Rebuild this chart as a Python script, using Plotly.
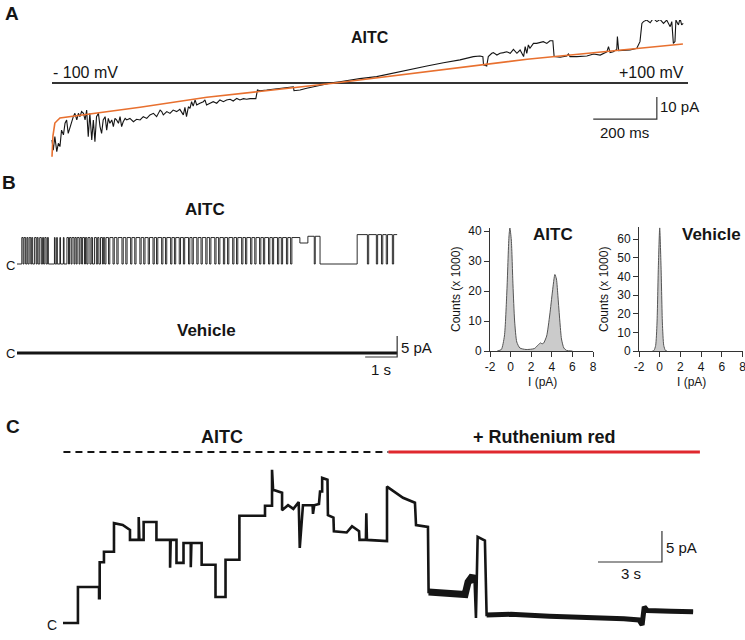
import plotly.graph_objects as go

W, H = 745, 640
FONT = "Arial, Liberation Sans, Helvetica, sans-serif"
INK = "#151515"

# ---------------- Panel A : ramp current (ms, pA) ----------------
ramp_t_ms = [0, 4, 9, 15, 20, 25, 30, 36, 41, 46,
             51, 57, 62, 67, 72, 78, 83, 88, 93, 99,
             104, 109, 114, 119, 125, 130, 135, 140, 146, 151,
             156, 161, 167, 172, 177, 182, 188, 193, 198, 203,
             209, 214, 219, 224, 230, 235, 245, 256, 266, 277,
             287, 298, 308, 319, 329, 340, 345, 350, 361, 371,
             381, 392, 402, 413, 418, 423, 429, 434, 439, 444,
             450, 455, 465, 476, 481, 486, 497, 507, 518, 528,
             539, 549, 560, 570, 581, 591, 602, 612, 623, 641,
             646, 654, 675, 696, 717, 738, 759, 761, 780, 801,
             822, 843, 864, 885, 905, 926, 947, 968,
             1021, 1074, 1126, 1179, 1231, 1283, 1325, 1346, 1355, 1357,
             1367, 1372, 1383, 1388, 1399, 1409, 1420, 1430, 1441, 1451,
             1462, 1472, 1483, 1488, 1493, 1498, 1503, 1514, 1524, 1535,
             1545, 1556, 1566, 1575, 1579, 1598, 1619, 1624, 1629, 1650,
             1682, 1703, 1724, 1745, 1750, 1755, 1765, 1776, 1778, 1782,
             1797, 1818, 1839, 1849, 1855, 1860, 1870, 1881, 1891, 1902,
             1912, 1923, 1933, 1944, 1949, 1954, 1959, 1962, 1970, 1975,
             1980, 1985]
ramp_i_pa = [-25.9, -30.5, -24.4, -31.2, -27.4, -28.9, -21.4, -23.6, -18.3, -16.8,
             -22.9, -19.8, -16.8, -15.3, -13.8, -16.8, -13.8, -15.3, -13.0, -13.8,
             -16.8, -12.3, -24.4, -13.8, -25.9, -16.8, -26.7, -15.3, -13.8, -19.8,
             -22.9, -16.8, -15.3, -21.4, -16.1, -18.3, -16.8, -19.8, -16.1, -16.8,
             -18.3, -15.3, -19.8, -17.6, -16.1, -16.8, -16.1, -17.6, -16.5, -16.8,
             -15.3, -16.1, -14.5, -13.8, -15.3, -12.3, -13.0, -14.5, -13.0, -13.8,
             -12.3, -13.0, -12.0, -14.5, -11.1, -15.3, -10.8, -11.5, -8.5, -10.5,
             -7.7, -10.0, -9.2, -8.5, -7.7, -10.0, -9.2, -8.5, -9.2, -7.7,
             -8.5, -7.7, -7.4, -8.2, -7.0, -7.7, -7.1, -7.4, -7.1, -7.1,
             -3.2, -3.5, -3.2, -2.9, -2.4, -2.3, -1.7, -3.5, -3.2, -2.4,
             -1.7, -0.9, -0.5, 0.2, 0.6, 1.1, 1.4, 2.0,
             2.9, 4.4, 5.9, 7.7, 9.2, 10.5, 12.0, 12.3, 12.0, 8.2,
             7.7, 12.0, 13.5, 13.8, 12.7, 13.5, 13.8, 14.2, 13.5, 15.3,
             13.5, 15.0, 12.0, 16.5, 13.5, 17.3, 15.8, 18.0, 18.0, 18.3,
             18.8, 18.0, 19.2, 19.2, 12.0, 11.7, 12.3, 13.2, 12.0, 12.0,
             12.3, 13.2, 12.7, 14.2, 16.5, 13.8, 14.2, 15.3, 21.1, 14.7,
             14.7, 15.0, 15.8, 18.8, 27.1, 27.9, 28.6, 27.4, 29.4, 27.9,
             28.9, 27.1, 28.6, 25.6, 27.9, 18.0, 18.8, 28.6, 26.4, 29.4,
             26.4, 27.1]
fit_t_ms = [0, 3, 9, 25, 277, 487, 645, 884, 1494, 1984]
fit_i_pa = [-33.5, -24.0, -18.2, -15.9, -11.0, -6.5, -4.0, -0.1, 10.8, 17.7]
zero_t_ms = [0, 2000]
zero_i_pa = [0, 0]
a_bar_t = [1702, 1902, 1902]      # 200 ms
a_bar_i = [-16.4, -16.4, -6.4]    # 10 pA

# ---------------- Panel B : single channel records (s, pA) ----------------
B_DURATION = 11.88
aitc_open_start = [0.15, 0.22, 0.31, 0.38, 0.46, 0.55, 0.63, 0.71, 0.80, 0.87, 0.95,
                   1.17, 1.24, 1.34, 1.45,
                   1.56, 1.64, 1.72, 1.81, 1.88, 1.97, 2.05, 2.14, 2.22, 2.32, 2.42, 2.52, 2.61, 2.70,
                   2.78, 2.90, 3.04, 3.16, 3.32, 3.44, 3.59, 3.72, 3.88, 4.00,
                   4.14, 4.29, 4.40, 4.56, 4.68, 4.84, 4.96, 5.11, 5.24, 5.40,
                   5.51, 5.66, 5.79, 5.94, 6.06, 6.22, 6.34, 6.49, 6.62, 6.78,
                   6.90, 7.06, 7.18, 7.34, 7.47, 7.62, 7.74, 7.90, 8.02, 8.18,
                   8.30, 8.46, 8.59,
                   8.84, 9.09, 9.32,
                   10.63, 10.99, 11.27, 11.43, 11.58, 11.77]
aitc_open_end = [0.19, 0.27, 0.34, 0.43, 0.49, 0.60, 0.66, 0.76, 0.83, 0.91, 0.98,
                 1.19, 1.26, 1.36, 1.47,
                 1.61, 1.69, 1.78, 1.85, 1.94, 2.02, 2.11, 2.18, 2.28, 2.36, 2.48, 2.56, 2.67, 2.74,
                 2.86, 3.00, 3.12, 3.28, 3.40, 3.55, 3.68, 3.84, 3.96, 4.10,
                 4.25, 4.36, 4.52, 4.64, 4.80, 4.92, 5.07, 5.20, 5.36, 5.47,
                 5.62, 5.75, 5.90, 6.02, 6.18, 6.30, 6.45, 6.58, 6.74, 6.86,
                 7.02, 7.14, 7.30, 7.43, 7.58, 7.70, 7.86, 7.98, 8.14, 8.26,
                 8.42, 8.55, 8.84,
                 9.09, 9.29, 9.47,
                 10.95, 11.23, 11.39, 11.54, 11.73, 11.88]
open_level_main = 6.3
sub_level = 5.0
open_level_mid = 6.6
open_level_late = 7.0
aitc_open_level = ([open_level_main] * 72 + [sub_level, open_level_mid, open_level_mid]
                   + [open_level_late] * 6)
vehicle_t = [0, B_DURATION]
vehicle_i = [0, 0]
b_bar_t = [10.88, 11.88, 11.88]   # 1 s
b_bar_i = [-0.95, -0.95, 4.05]    # 5 pA

hist_aitc_i = [-1.3, -0.9, -0.6, -0.36, -0.16, -0.07, 0.07, 0.23, 0.39, 0.6, 0.9, 1.5,
               2.3, 2.67, 2.9, 3.05, 3.2, 3.5, 3.8, 4.07, 4.3, 4.45, 4.6, 4.78, 4.94,
               5.17, 5.43, 6.0]
hist_aitc_counts = [0, 0.5, 5, 20, 38, 41, 37, 22, 10, 3, 1, 0.5,
                    0.8, 2, 2.7, 2.4, 2.6, 5, 12, 20, 25.5, 24, 18, 10, 4,
                    1, 0.2, 0]
hist_veh_i = [-0.7, -0.55, -0.39, -0.26, -0.13, 0, 0.13, 0.26, 0.39, 0.55, 0.7]
hist_veh_counts = [0, 0.3, 3, 15, 45, 66, 45, 15, 3, 0.3, 0]
hist_xticks = [-2, 0, 2, 4, 6, 8]
hist_xtick_text = ["-2", "0", "2", "4", "6", "8"]
hist_aitc_yticks = [0, 10, 20, 30, 40]
hist_veh_yticks = [0, 10, 20, 30, 40, 50, 60]

# ---------------- Panel C : multichannel patch (s, pA) ----------------
c_t = [0.00, 0.70, 0.70, 1.69, 1.69, 1.72, 1.72, 1.92, 1.92, 2.39,
       2.39, 2.80, 3.14, 3.14, 3.55, 3.55, 3.58, 3.78, 3.78, 4.38,
       4.38, 5.02, 5.02, 5.05, 5.32, 5.32, 5.65, 5.65, 5.99, 5.99,
       6.02, 6.50, 6.50, 7.15, 7.15, 7.62, 7.62, 8.27, 8.27, 9.47,
       9.47, 9.80, 9.80, 9.85, 10.27, 10.27, 10.55, 10.80, 11.05, 11.10,
       11.25, 11.70, 11.72, 11.78, 12.00, 12.05, 12.15, 12.15, 12.40, 12.42,
       12.68, 12.70, 13.30, 13.55, 13.88, 13.90, 14.20, 14.22, 14.25, 15.19,
       15.19, 15.94, 16.50, 16.55, 17.11, 17.14, 18.85, 18.99, 19.20, 19.30,
       19.36, 19.44, 19.78, 19.86, 21.0, 22.8, 24.0, 25.2, 26.3, 27.0,
       27.15, 27.25, 27.4, 28.5, 29.54]
c_i = [0, 0, 5.8, 5.8, 4.0, 4.0, 9.8, 9.8, 11.5, 11.5,
       16.1, 15.8, 15.0, 13.4, 13.4, 17.1, 13.4, 13.4, 16.3, 16.3,
       13.4, 13.4, 8.9, 13.4, 13.4, 9.7, 9.7, 12.9, 12.9, 9.0,
       12.9, 12.9, 9.4, 9.4, 4.2, 4.2, 10.2, 10.2, 17.3, 17.3,
       18.9, 18.9, 24.7, 21.5, 21.0, 18.2, 19.0, 18.4, 19.5, 12.1,
       19.0, 19.0, 17.6, 19.0, 19.2, 21.2, 21.2, 23.4, 23.1, 17.4,
       17.0, 14.8, 14.6, 15.6, 14.8, 13.4, 13.4, 17.7, 13.4, 13.2,
       22.0, 20.2, 19.4, 15.8, 15.5, 5.0, 4.6, 6.6, 7.6, 6.5,
       0.8, 13.9, 13.3, 1.3, 1.4, 1.1, 1.0, 0.8, 0.7, 0.5,
       -0.3, 2.6, 2.0, 1.9, 1.8]
c_noisy_from = [17.14, 19.86]
c_noisy_to = [19.30, 29.54]
c_aitc_period = [0.02, 15.26]
c_rr_period = [15.26, 29.86]
c_marker_level = 27.6
c_bar_t = [25.08, 28.08, 28.08]   # 3 s
c_bar_i = [9.84, 9.84, 14.84]     # 5 pA

# ---------------- helpers ----------------
def xax(x0, k, a, b, anchor, **kw):
    d = dict(domain=[a / W, b / W], range=[(a - x0) / k, (b - x0) / k],
             anchor=anchor, visible=False, fixedrange=True, automargin=False)
    d.update(kw)
    return d


def yax(y0, k, top, bot, anchor, **kw):
    d = dict(domain=[1 - bot / H, 1 - top / H], range=[(y0 - bot) / k, (y0 - top) / k],
             anchor=anchor, visible=False, fixedrange=True, automargin=False)
    d.update(kw)
    return d


def line(x, y, xa, ya, color=INK, width=1.0, dash=None, shape="linear"):
    return go.Scatter(x=x, y=y, xaxis=xa, yaxis=ya, mode="lines", hoverinfo="skip",
                      line=dict(color=color, width=width, dash=dash, shape=shape))


annotations = []


def ann(text, px, py, size, bold=False, xanchor="center", angle=0):
    annotations.append(dict(
        text=("<b>%s</b>" % text) if bold else text,
        x=px / W, y=1 - py / H, xref="paper", yref="paper",
        xanchor=xanchor, yanchor="middle", showarrow=False, textangle=angle,
        font=dict(family=FONT, size=size, color=INK)))


fig = go.Figure()

# ---- Panel A ----
fig.add_trace(line(zero_t_ms, zero_i_pa, "x", "y", color="#333333", width=2))
fig.add_trace(line(ramp_t_ms, ramp_i_pa, "x", "y", color=INK, width=1.1))
fig.add_trace(line(fit_t_ms, fit_i_pa, "x", "y", color="#e8702f", width=1.6))
fig.add_trace(line(a_bar_t, a_bar_i, "x", "y", color="#333333", width=1.2))

# ---- Panel B traces ----
bt, bi = [0.0], [0.0]
last_end = 0.0
for s, e, lv in zip(aitc_open_start, aitc_open_end, aitc_open_level):
    if s > last_end + 1e-9:
        if bi[-1] != 0:
            bt.append(last_end)
            bi.append(0.0)
        bt.append(s)
        bi.append(0.0)
    bt += [s, e]
    bi += [lv, lv]
    last_end = e
if last_end < B_DURATION:
    bt += [last_end, B_DURATION]
    bi += [0.0, 0.0]
fig.add_trace(line(bt, bi, "x2", "y2", color=INK, width=0.9))
fig.add_trace(line(vehicle_t, vehicle_i, "x3", "y3", color=INK, width=3.2))
fig.add_trace(line(b_bar_t, b_bar_i, "x3", "y3", color="#333333", width=1.2))

# ---- Histograms ----
fig.add_trace(go.Scatter(x=hist_aitc_i, y=hist_aitc_counts, xaxis="x4", yaxis="y4",
                         mode="lines", fill="tozeroy", fillcolor="#cbcbcb",
                         line=dict(color="#555555", width=1, shape="spline", smoothing=0.6),
                         hoverinfo="skip"))
fig.add_trace(go.Scatter(x=hist_veh_i, y=hist_veh_counts, xaxis="x5", yaxis="y5",
                         mode="lines", fill="tozeroy", fillcolor="#cbcbcb",
                         line=dict(color="#555555", width=1, shape="spline", smoothing=0.6),
                         hoverinfo="skip"))

# ---- Panel C ----
fig.add_trace(line(c_aitc_period, [c_marker_level] * 2, "x6", "y6", color=INK, width=2, dash="7px,5px"))
fig.add_trace(line(c_rr_period, [c_marker_level] * 2, "x6", "y6", color="#e0282e", width=3))
fig.add_trace(line(c_t, c_i, "x6", "y6", color=INK, width=2.6))
for lo, hi, wd in zip(c_noisy_from, c_noisy_to, [7, 5]):
    seg = [(t, v) for t, v in zip(c_t, c_i) if lo <= t <= hi]
    fig.add_trace(line([p[0] for p in seg], [p[1] for p in seg], "x6", "y6", color=INK, width=wd))
fig.add_trace(line(c_bar_t, c_bar_i, "x6", "y6", color="#333333", width=1.2))

# ---- axes ----
hist_axis_style = dict(visible=True, showline=True, linecolor="#333333", linewidth=1,
                       ticks="outside", ticklen=5, tickwidth=1, tickcolor="#333333",
                       showgrid=False, zeroline=False, automargin=False,
                       ticklabeloverflow="allow",
                       tickfont=dict(family=FONT, size=12, color=INK))

layout = dict(
    template="none",
    width=W, height=H, margin=dict(l=0, r=0, t=0, b=0, pad=0), autosize=False,
    paper_bgcolor="white", plot_bgcolor="rgba(0,0,0,0)", showlegend=False,
    xaxis=xax(52, 0.318, 40, 705, "y"),
    yaxis=yax(83, 2.2, 20, 170, "x"),
    xaxis2=xax(17, 32, 10, 412, "y2"),
    yaxis2=yax(264, 4.2, 222, 290, "x2"),
    xaxis3=xax(17, 32, 10, 412, "y3"),
    yaxis3=yax(353, 4.2, 315, 380, "x3"),
    xaxis4=dict(domain=[490 / W, 593 / W], range=[-2, 8], anchor="y4",
                tickvals=hist_xticks, ticktext=hist_xtick_text, fixedrange=True, **hist_axis_style),
    yaxis4=dict(domain=[1 - 351 / H, 1 - 228 / H], range=[0, 41], anchor="x4",
                tickvals=hist_aitc_yticks, fixedrange=True, **hist_axis_style),
    xaxis5=dict(domain=[639 / W, 742.5 / W], range=[-2, 8], anchor="y5",
                tickvals=hist_xticks, ticktext=hist_xtick_text, fixedrange=True, **hist_axis_style),
    yaxis5=dict(domain=[1 - 351 / H, 1 - 227 / H], range=[0, 66.5], anchor="x5",
                tickvals=hist_veh_yticks, fixedrange=True, **hist_axis_style),
    xaxis6=xax(63, 21.33, 45, 720, "y6"),
    yaxis6=yax(623, 6.2, 440, 638, "x6"),
)
fig.update_layout(**layout)

# ---- text ----
ann("A", 12, 14, 19, bold=True)
ann("AITC", 370, 38, 16, bold=True)
ann("- 100 mV", 51, 72, 16, xanchor="left")
ann("+100 mV", 686, 72, 16, xanchor="right")
ann("10 pA", 658, 106, 15, xanchor="left")
ann("200 ms", 624, 133, 15)

ann("B", 9, 183, 19, bold=True)
ann("AITC", 205, 209, 17, bold=True)
ann("C", 17, 265, 13, xanchor="right")
ann("Vehicle", 206, 330, 17, bold=True)
ann("C", 17, 353, 13, xanchor="right")
ann("5 pA", 399, 347, 15, xanchor="left")
ann("1 s", 381, 369, 15)

ann("AITC", 553, 234, 17, bold=True)
ann("Vehicle", 711, 234, 17, bold=True)
ann("Counts (x 1000)", 456, 290, 12, angle=-90)
ann("Counts (x 1000)", 604, 290, 12, angle=-90)
ann("I (pA)", 542, 382, 12)
ann("I (pA)", 691, 382, 12)

ann("C", 13, 426, 19, bold=True)
ann("AITC", 222, 437, 18, bold=True)
ann("+ Ruthenium red", 544, 437, 18, bold=True)
ann("C", 59, 625, 14, xanchor="right")
ann("5 pA", 664, 547, 15, xanchor="left")
ann("3 s", 631, 573, 15)

fig.update_layout(annotations=annotations)
fig.write_html("out.html", config={"displayModeBar": False},
               post_script="document.body.style.margin='0px';")
